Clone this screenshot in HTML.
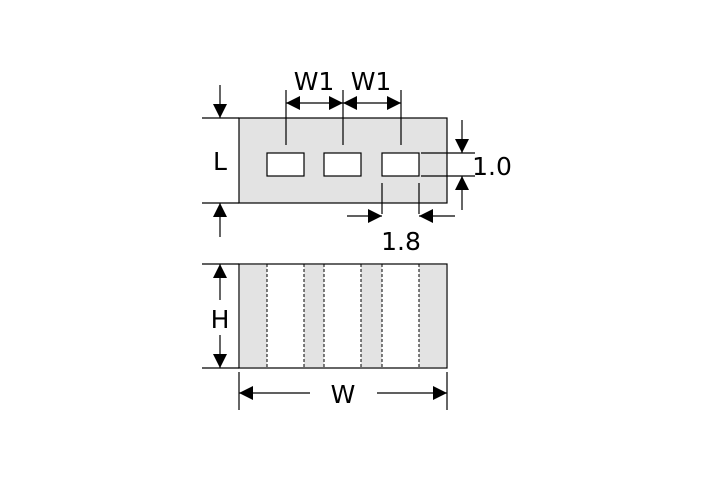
<!DOCTYPE html><html><head><style>body{margin:0;background:#fff}</style></head><body>
<svg width="709" height="472" xmlns="http://www.w3.org/2000/svg" font-family="DejaVu Sans, Liberation Sans, sans-serif">
<defs><marker id="a" viewBox="0 0 10 10" refX="10" refY="5" markerWidth="16" markerHeight="14" markerUnits="userSpaceOnUse" orient="auto"><path d="M0,0L10,5L0,10z" fill="#000"/></marker></defs>
<g stroke="#000" stroke-width="1.2">
<rect x="239" y="118" width="208" height="85" fill="#e3e3e3"/>
<rect x="267" y="153" width="37" height="23" fill="#fff"/>
<rect x="324" y="153" width="37" height="23" fill="#fff"/>
<rect x="382" y="153" width="37" height="23" fill="#fff"/>
<path d="M286,90V145M343,90V145M401,90V145M202,118H239M202,203H239M421,153H475M421,176H475M382,183V214M419,183V214" fill="none"/>
<g marker-end="url(#a)">
<line x1="314" y1="103" x2="286" y2="103"/>
<line x1="314" y1="103" x2="343" y2="103"/>
<line x1="371" y1="103" x2="343" y2="103"/>
<line x1="371" y1="103" x2="401" y2="103"/>
<line x1="220" y1="85" x2="220" y2="118"/>
<line x1="220" y1="237" x2="220" y2="203"/>
<line x1="462" y1="120" x2="462" y2="153"/>
<line x1="462" y1="210" x2="462" y2="176"/>
<line x1="347" y1="216" x2="382" y2="216"/>
<line x1="455" y1="216" x2="419" y2="216"/>
</g>
<rect x="239" y="264" width="208" height="104" fill="#fff"/>
<g stroke="none" fill="#e3e3e3"><rect x="240" y="265" width="27" height="102"/><rect x="304" y="265" width="20" height="102"/><rect x="361" y="265" width="21" height="102"/><rect x="419" y="265" width="27" height="102"/></g>
<path d="M267,264V368M304,264V368M324,264V368M361,264V368M382,264V368M419,264V368" stroke-dasharray="3,2" stroke-width="1"/>
<path d="M202,264H239M202,368H239M239,372V410M447,372V410" fill="none"/>
<g marker-end="url(#a)">
<line x1="220" y1="300" x2="220" y2="264"/>
<line x1="220" y1="335" x2="220" y2="368"/>
<line x1="310" y1="393" x2="239" y2="393"/>
<line x1="377" y1="393" x2="447" y2="393"/>
</g>
</g>
<g font-size="25" text-anchor="middle" fill="#000">
<text x="314" y="90">W1</text><text x="371" y="90">W1</text>
<text x="220" y="170">L</text><text x="492" y="175">1.0</text><text x="401" y="250">1.8</text>
<text x="220" y="328">H</text><text x="343" y="403">W</text>
</g>
</svg></body></html>
